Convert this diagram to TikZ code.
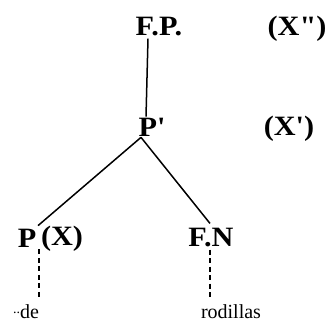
\documentclass[tikz,border=0pt]{standalone}
\usepackage{fontspec}
\setmainfont{Liberation Serif}[Ligatures=TeXOff]
\newfontfamily\catfont{Liberation Serif Bold}[Ligatures=TeXOff,FakeStretch=1.08]
\begin{document}
\begin{tikzpicture}[x=1pt,y=-1pt,
  cat/.style={font=\fontsize{28}{30}\catfont, inner sep=0pt, anchor=center},
  word/.style={font=\fontsize{20}{22}\selectfont, inner sep=0pt, anchor=base},
  branch/.style={line width=1.5pt},
  leaf/.style={line width=1.7pt, dash pattern=on 5pt off 3.5pt}]
\useasboundingbox (0,0) rectangle (328,323);
\node[cat] (FP) at (159,27) {F.P.};
\node[cat] (Xpp) at (297,29) {(X")};
\node[cat] (Pp) at (152,127) {P'};
\node[cat] (Xp) at (289,129) {(X')};
\node[cat] (P) at (27,238) {P};
\node[cat] (X) at (62,239) {(X)};
\node[cat] (FN) at (211,238) {F.N};
\node[word] (de) at (26,318) {\raisebox{0.45ex}{\fontsize{14}{14}\selectfont ..}de};
\node[word] (rod) at (231,318) {rodillas};
\coordinate (fpb) at ([xshift=-11pt,yshift=-2pt]FP.south);
\coordinate (ppt) at ([xshift=-6pt,yshift=1pt]Pp.north);
\draw[branch] (fpb) -- (ppt);
\coordinate (ppb) at ([xshift=-11pt,yshift=-1pt]Pp.south);
\draw[branch] (ppb) -- ([xshift=11pt,yshift=3pt]P.north);
\draw[branch] (ppb) -- ([xshift=-1pt,yshift=5pt]FN.north);
\draw[leaf] ([xshift=12pt]P.south) ++(0,2) -- ++(0,49);
\draw[leaf] ([xshift=-1pt]FN.south) ++(0,2) -- ++(0,49);
\end{tikzpicture}
\end{document}
